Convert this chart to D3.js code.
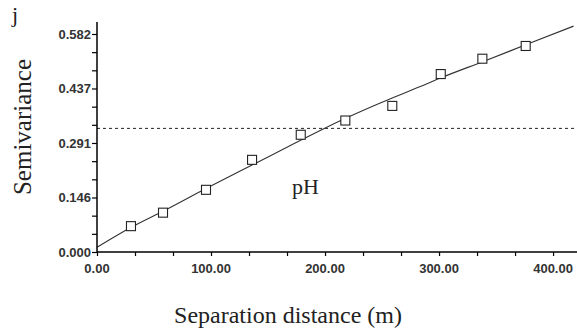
<!DOCTYPE html>
<html>
<head>
<meta charset="utf-8">
<script src="https://cdn.jsdelivr.net/npm/d3@7"></script>
<style>
  body { margin: 0; background: #fff; }
  svg { display: block; }
</style>
</head>
<body>
<svg id="chart"></svg>
<script>
/* data */
let lagDist = [29.8, 57.9, 95.6, 136, 178.7, 217.8, 259, 301.5, 338, 376];
let semivar = [0.069, 0.105, 0.166, 0.246, 0.313, 0.351, 0.390, 0.475, 0.516, 0.550];

// fitted model
let modelDist = [0, 30, 60, 96, 136, 170, 198, 218, 250, 283, 300, 340, 376, 418];
let modelVal = [0.0125, 0.066, 0.112, 0.170, 0.232, 0.285, 0.328, 0.357, 0.400, 0.441, 0.463, 0.510, 0.553, 0.603];

let sill = 0.330;

let yTicks = [0, 0.1455, 0.291, 0.4365, 0.582];
let yTickLabels = ["0.000", "0.146", "0.291", "0.437", "0.582"];
let xTicks = [0, 100, 200, 300, 400];
let xTickLabels = ["0.00", "100.00", "200.00", "300.00", "400.00"];

/* chart */
!(function() {
  let width = 577, height = 335;
  let left = 97, right = 577, top = 22, bottom = 252;

  let svg = d3.select("#chart")
    .attr("width", width)
    .attr("height", height);

  let x = d3.scaleLinear().domain([0, 421]).range([left, right]);
  let y = d3.scaleLinear().domain([0, 0.614]).range([bottom, top]);

  // minor ticks: thirds of the major step
  let yMinor = d3.range(0, 13).map(i => i * 0.0485);
  let xMinor = d3.range(0, 13).map(i => i * 100 / 3);

  // dashed sill line
  svg.append("line")
    .attr("x1", x(0))
    .attr("x2", right)
    .attr("y1", y(sill))
    .attr("y2", y(sill))
    .attr("stroke", "#222")
    .attr("stroke-width", 1)
    .attr("stroke-dasharray", "3,3");

  // model curve
  let line = d3.line()
    .x((d, i) => x(modelDist[i]))
    .y((d, i) => y(modelVal[i]))
    .curve(d3.curveMonotoneX);

  svg.append("path")
    .datum(modelVal)
    .attr("d", line)
    .attr("fill", "none")
    .attr("stroke", "#333")
    .attr("stroke-width", 1.1);

  // experimental points
  svg.selectAll(".pt")
    .data(semivar)
    .enter().append("rect")
    .attr("class", "pt")
    .attr("x", (d, i) => x(lagDist[i]) - 4.5)
    .attr("y", d => y(d) - 4.5)
    .attr("width", 9)
    .attr("height", 9)
    .attr("fill", "#fff")
    .attr("stroke", "#222")
    .attr("stroke-width", 1.1);

  // y axis
  let yAxis = svg.append("g")
    .attr("transform", "translate(" + left + ",0)");
  yAxis.call(d3.axisLeft(y).tickValues(yMinor.filter(v => v <= 0.6)).tickSize(5).tickFormat(""));
  yAxis.select(".domain").remove();
  yAxis.append("line")
    .attr("x1", 0).attr("x2", 0)
    .attr("y1", top).attr("y2", bottom)
    .attr("stroke", "#000")
    .attr("stroke-width", 1.5);
  yAxis.selectAll(".tick line").attr("stroke", "#000").attr("stroke-width", 1.2);

  svg.append("g").selectAll("text")
    .data(yTicks)
    .enter().append("text")
    .attr("x", left - 6)
    .attr("y", d => y(d))
    .attr("dy", "0.35em")
    .attr("text-anchor", "end")
    .style("font", "bold 13px 'Liberation Sans', Arial, sans-serif")
    .style("fill", "#333")
    .text((d, i) => yTickLabels[i]);

  // x axis
  let xAxis = svg.append("g")
    .attr("transform", "translate(0," + bottom + ")");
  xAxis.call(d3.axisBottom(x).tickValues(xMinor.filter(v => v <= 421)).tickSize(4).tickFormat(""));
  xAxis.select(".domain").remove();
  xAxis.append("line")
    .attr("x1", left).attr("x2", right)
    .attr("y1", 0).attr("y2", 0)
    .attr("stroke", "#000")
    .attr("stroke-width", 1.5);
  xAxis.selectAll(".tick line").attr("stroke", "#000").attr("stroke-width", 1.2);

  svg.append("g").selectAll("text")
    .data(xTicks)
    .enter().append("text")
    .attr("x", d => x(d))
    .attr("y", bottom + 21)
    .attr("text-anchor", "middle")
    .style("font", "bold 13px 'Liberation Sans', Arial, sans-serif")
    .style("fill", "#333")
    .text((d, i) => xTickLabels[i]);

  // titles
  let serif = "'Liberation Serif', 'Times New Roman', serif";

  svg.append("text")
    .attr("x", 12)
    .attr("y", 22)
    .style("font", "22px " + serif)
    .style("fill", "#222")
    .text("j");

  svg.append("text")
    .attr("transform", "translate(31,127) rotate(-90)")
    .attr("text-anchor", "middle")
    .style("font", "25px " + serif)
    .style("fill", "#222")
    .text("Semivariance");

  svg.append("text")
    .attr("x", 288)
    .attr("y", 323)
    .attr("text-anchor", "middle")
    .style("font", "24px " + serif)
    .style("fill", "#222")
    .text("Separation distance (m)");

  svg.append("text")
    .attr("x", 292)
    .attr("y", 194)
    .style("font", "22px " + serif)
    .style("fill", "#222")
    .text("pH");
})();
</script>
</body>
</html>
